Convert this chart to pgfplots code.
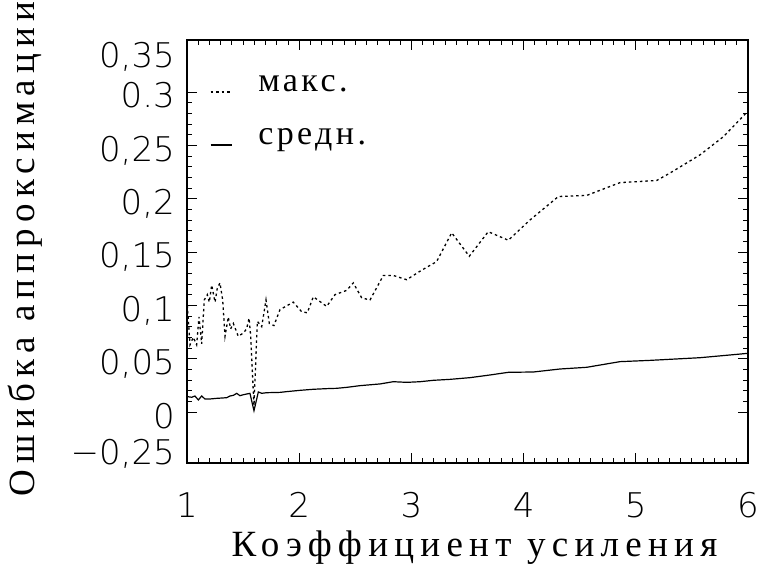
\documentclass[border=0pt]{standalone}
\usepackage{fontspec}
\usepackage{pgfplots}
\pgfplotsset{compat=1.18}
\newfontfamily\tickfont{DejaVu Sans ExtraLight}
\newfontfamily\labfont[LetterSpace=17]{Liberation Serif}
\newfontfamily\legfont[LetterSpace=10]{Liberation Serif}

\pgfplotstableread{
x y
1.003 0.100
1.027 0.063
1.056 0.070
1.086 0.063
1.107 0.089
1.131 0.064
1.154 0.105
1.181 0.110
1.199 0.103
1.220 0.119
1.250 0.103
1.270 0.116
1.294 0.121
1.318 0.105
1.339 0.071
1.368 0.089
1.389 0.078
1.413 0.083
1.457 0.071
1.502 0.074
1.532 0.078
1.553 0.088
1.568 0.071
1.597 0.006
1.627 0.085
1.666 0.080
1.704 0.105
1.734 0.083
1.775 0.081
1.829 0.096
1.947 0.103
2.022 0.094
2.072 0.093
2.126 0.108
2.245 0.099
2.319 0.110
2.423 0.114
2.482 0.121
2.557 0.107
2.631 0.105
2.750 0.128
2.839 0.128
2.958 0.124
3.077 0.132
3.225 0.141
3.359 0.168
3.516 0.146
3.685 0.169
3.864 0.161
4.057 0.180
4.310 0.202
4.562 0.203
4.859 0.215
5.186 0.217
5.305 0.224
5.572 0.241
5.780 0.258
6.000 0.282
}\maxdata

\pgfplotstableread{
x y
1.003 0.0144
1.042 0.0138
1.071 0.0150
1.101 0.0113
1.131 0.0150
1.160 0.0122
1.205 0.0122
1.264 0.0128
1.354 0.0134
1.383 0.0150
1.413 0.0156
1.443 0.0175
1.472 0.0153
1.502 0.0162
1.561 0.0175
1.597 0.0012
1.636 0.0188
1.666 0.0175
1.710 0.0181
1.829 0.0184
1.888 0.0191
2.007 0.0203
2.126 0.0213
2.245 0.0219
2.334 0.0222
2.423 0.0231
2.542 0.0247
2.720 0.0263
2.839 0.0284
2.958 0.0278
3.077 0.0284
3.195 0.0297
3.344 0.0306
3.522 0.0322
3.700 0.0347
3.864 0.0372
4.087 0.0375
4.324 0.0403
4.562 0.0419
4.859 0.0472
5.127 0.0484
5.572 0.0509
6.000 0.0550
}\meandata

\begin{document}
\begin{tikzpicture}
\useasboundingbox (-187pt,-102pt) rectangle (574pt,463pt);
\begin{axis}[
  at={(0pt,0pt)}, anchor=south west,
  scale only axis,
  width=561pt, height=423pt,
  xmin=1, xmax=6,
  ymin=-0.0478, ymax=0.3487,
  axis line style={line width=1.2pt},
  every tick/.style={black, line width=0.9pt},
  major tick length=10pt,
  minor tick length=5pt,
  xtick={1,2,3,4,5,6},
  xticklabels={1,2,3,4,5,6},
  minor x tick num=9,
  ytick={0,0.05,0.1,0.15,0.2,0.25,0.3},
  yticklabels={{0},{0,05},{0,1},{0,15},{0,2},{0,25},{0.3}},
  minor y tick num=4,
  extra y ticks={-0.0342,0.3375},
  extra y tick labels={{−0,25},{0,35}},
  extra y tick style={major tick length=0pt},
  xticklabel style={font=\tickfont\fontsize{34}{40}\selectfont, anchor=base, yshift=-54pt, inner sep=0pt},
  yticklabel style={font=\tickfont\fontsize{34}{40}\selectfont, anchor=base east, xshift=-12pt, yshift=-16pt, inner sep=0pt},
  xlabel={Коэффициент усиления},
  ylabel={Ошибка аппроксимации},
  every axis x label/.style={at={(rel axis cs:0.5,0)}, anchor=base, xshift=7pt, yshift=-93pt, font=\labfont\fontsize{37}{37}\selectfont, inner sep=0pt},
  every axis y label/.style={at={(rel axis cs:0,0.5)}, rotate=90, anchor=base, xshift=2.5pt, yshift=152pt, font=\labfont\fontsize{37}{37}\selectfont, inner sep=0pt},
  legend style={draw=none, fill=none, at={(rel axis cs:0,1)}, anchor=north west, xshift=23pt, yshift=-32pt, inner sep=0pt, outer sep=0pt, row sep=25pt, font=\legfont\fontsize{34}{34}\selectfont, cells={anchor=base west}, nodes={inner sep=0pt, text height=20pt, text depth=8pt}, /tikz/every odd column/.append style={column sep=26pt}},
  legend image code/.code={\draw[#1] (0pt,0pt) -- (21pt,0pt);},
]
\addplot[black, line width=1.3pt, dash pattern=on 2.5pt off 3pt] table[x=x,y=y] {\maxdata};
\addlegendentry{макс.}
\addplot[black, line width=1.2pt] table[x=x,y=y] {\meandata};
\addlegendentry{средн.}
\end{axis}
\end{tikzpicture}
\end{document}
